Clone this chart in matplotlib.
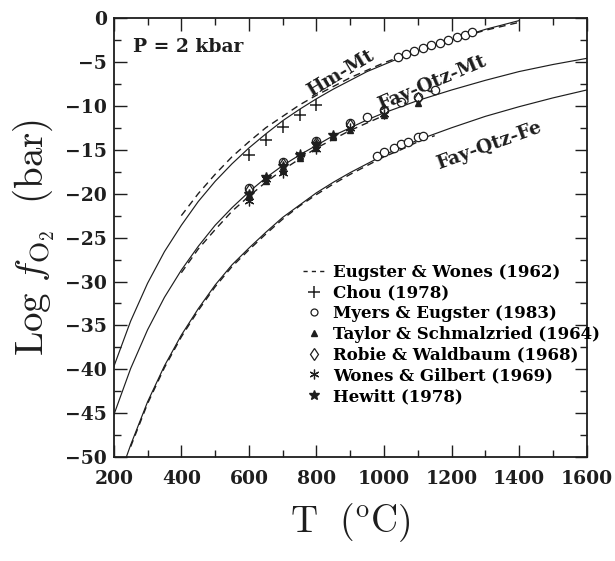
import matplotlib
matplotlib.use("Agg")
import matplotlib.pyplot as plt
from matplotlib.lines import Line2D
from matplotlib.ticker import MultipleLocator

# ---- calculated buffer curves, P = 2 kbar ----
hm_T = [200, 250, 300, 350, 400, 450, 500, 550, 600, 650, 700, 750, 800, 850,
        900, 950, 1000, 1050, 1100, 1150, 1200, 1250, 1300, 1350, 1400]
hm_logf = [-39.7, -34.5, -30.2, -26.6, -23.6, -20.9, -18.6, -16.6, -14.8, -13.2,
           -11.7, -10.4, -9.2, -8.1, -7.1, -6.1, -5.3, -4.5, -3.8, -3.1,
           -2.5, -1.9, -1.3, -0.8, -0.3]

fmq_T = [200, 250, 300, 350, 400, 450, 500, 550, 600, 650, 700, 750, 800, 850,
         900, 950, 1000, 1100, 1200, 1300, 1400, 1500, 1600]
fmq_logf = [-45.2, -39.9, -35.5, -31.8, -28.7, -26.0, -23.6, -21.6, -19.8, -18.2,
            -16.8, -15.6, -14.5, -13.4, -12.5, -11.6, -10.8, -9.4, -8.2, -7.1,
            -6.1, -5.3, -4.6]

qif_T = [237, 250, 300, 350, 400, 450, 500, 550, 600, 650, 700, 750, 800, 850,
         900, 950, 1000, 1100, 1200, 1300, 1400, 1500, 1600]
qif_logf = [-50.0, -48.6, -43.7, -39.6, -36.1, -33.1, -30.4, -28.1, -26.2, -24.4,
            -22.7, -21.3, -19.9, -18.7, -17.6, -16.6, -15.6, -13.9, -12.5, -11.2,
            -10.1, -9.1, -8.2]

# ---- Eugster & Wones (1962) curves (dashed) ----
ew_hm_T = [400, 450, 500, 550, 600, 650, 700, 750, 800, 900, 1000, 1100, 1200, 1300, 1400]
ew_hm_logf = [-22.5, -20.0, -17.8, -15.8, -14.1, -12.5, -11.2, -9.9, -8.8, -6.8,
              -5.1, -3.7, -2.5, -1.4, -0.5]
ew_fmq_T = [400, 450, 500, 550, 600, 650, 700, 800, 900, 1000]
ew_fmq_logf = [-29.0, -26.3, -24.1, -22.0, -20.3, -18.7, -17.3, -14.8, -12.8, -11.1]
ew_qif_T = [250, 300, 350, 400, 450, 500, 550, 600, 650, 700, 750, 800, 850, 900,
            950, 1000, 1050, 1100, 1150]
ew_qif_logf = [-48.8, -43.9, -39.8, -36.3, -33.3, -30.6, -28.3, -26.4, -24.6, -22.9,
               -21.4, -20.1, -18.9, -17.8, -16.8, -15.8, -15.0, -14.1, -13.4]

# ---- experimental data ----
chou_T = [600, 650, 700, 750, 800]
chou_logf = [-15.6, -13.9, -12.4, -11.0, -9.9]

myers_T = [1040, 1065, 1090, 1115, 1140, 1165, 1190, 1215, 1240, 1260,
           600, 700, 800, 900, 950, 1000, 1050, 1100, 1150,
           980, 1000, 1030, 1050, 1070, 1100, 1115]
myers_logf = [-4.5, -4.1, -3.8, -3.4, -3.1, -2.8, -2.5, -2.2, -1.9, -1.6,
              -19.3, -16.4, -14.0, -12.0, -11.3, -10.5, -9.6, -9.0, -8.2,
              -15.7, -15.3, -14.8, -14.4, -14.1, -13.6, -13.4]

taylor_T = [600, 650, 700, 750, 800, 850, 900, 1000, 1100]
taylor_logf = [-20.3, -18.6, -17.3, -15.9, -14.8, -13.6, -12.8, -11.1, -9.7]

robie_T = [600, 700, 800, 900, 1000, 1100]
robie_logf = [-19.6, -16.6, -14.2, -12.2, -10.5, -9.1]

wones_T = [600, 650, 700, 750, 800, 900, 1000]
wones_logf = [-20.8, -18.3, -17.6, -15.5, -14.9, -12.5, -10.9]

hewitt_T = [600, 650, 700, 750, 800, 850]
hewitt_logf = [-20.0, -18.1, -16.9, -15.6, -14.4, -13.3]

ink = "#1e1e1e"
serif = "DejaVu Serif"

plt.rcParams["font.family"] = serif
plt.rcParams["font.weight"] = "bold"
plt.rcParams["mathtext.fontset"] = "cm"

fig = plt.figure(figsize=(6.15, 5.61), dpi=100)
ax = fig.add_axes([0.185, 0.185, 0.769, 0.783])

dash = (0, (5, 3.5))
for T, f in [(hm_T, hm_logf), (fmq_T, fmq_logf), (qif_T, qif_logf)]:
    ax.plot(T, f, color=ink, lw=0.85)
for T, f in [(ew_hm_T, ew_hm_logf), (ew_fmq_T, ew_fmq_logf), (ew_qif_T, ew_qif_logf)]:
    ax.plot(T, f, color=ink, lw=1.0, linestyle=dash)

ax.plot(chou_T, chou_logf, "+", color=ink, ms=8, mew=1.1, ls="none")
ax.plot(myers_T, myers_logf, "o", mfc="white", mec=ink, ms=6, mew=0.9, ls="none")
ax.plot(taylor_T, taylor_logf, "^", color=ink, ms=4.5, ls="none")
ax.plot(robie_T, robie_logf, "d", mfc="none", mec=ink, ms=6, mew=0.9, ls="none")
ax.plot(wones_T, wones_logf, marker=(6, 2, 0), color=ink, ms=7, mew=0.9, ls="none")
ax.plot(hewitt_T, hewitt_logf, "*", color=ink, ms=7, ls="none")

ax.set_xlim(200, 1600)
ax.set_ylim(-50, 0)
ax.xaxis.set_major_locator(MultipleLocator(200))
ax.xaxis.set_minor_locator(MultipleLocator(100))
ax.yaxis.set_major_locator(MultipleLocator(5))
ax.yaxis.set_minor_locator(MultipleLocator(2.5))
ax.tick_params(which="both", direction="in", top=True, right=True, width=1.0,
               colors=ink, labelsize=13.5)
ax.tick_params(axis="x", pad=9)
ax.tick_params(axis="y", pad=5)
ax.tick_params(which="major", length=9)
ax.tick_params(which="minor", length=5)
for s in ax.spines.values():
    s.set_linewidth(1.3)
    s.set_color(ink)

ax.set_xlabel(r"$\mathrm{T\ \ (^{o}C)}$", fontsize=27, color=ink, labelpad=10)
ax.set_ylabel(r"$\mathrm{Log}\ f_{\mathrm{O_2}}\ \ \mathrm{(bar)}$", fontsize=28,
              color=ink, labelpad=6)

lab = dict(family=serif, fontsize=13.5, fontweight="bold", color=ink)
ax.text(0.04, 0.935, "P = 2 kbar", transform=ax.transAxes, va="center", **lab)
ax.text(872, -6.3, "Hm-Mt", rotation=31, ha="center", va="center",
        rotation_mode="anchor", **lab)
ax.text(1141, -7.4, "Fay-Qtz-Mt", rotation=23, ha="center", va="center",
        rotation_mode="anchor", **lab)
ax.text(1310, -14.5, "Fay-Qtz-Fe", rotation=20, ha="center", va="center",
        rotation_mode="anchor", **lab)

handles = [
    Line2D([], [], color=ink, lw=1.0, linestyle=(0, (3, 3))),
    Line2D([], [], marker="+", color=ink, ms=8, mew=1.1, ls="none"),
    Line2D([], [], marker="o", mfc="white", mec=ink, ms=5, mew=0.9, ls="none"),
    Line2D([], [], marker="^", color=ink, ms=4.5, ls="none"),
    Line2D([], [], marker="d", mfc="none", mec=ink, ms=6, mew=0.9, ls="none"),
    Line2D([], [], marker=(6, 2, 0), color=ink, ms=7, mew=0.9, ls="none"),
    Line2D([], [], marker="*", color=ink, ms=7, ls="none"),
]
labels = ["Eugster & Wones (1962)", "Chou (1978)", "Myers & Eugster (1983)",
          "Taylor & Schmalzried (1964)", "Robie & Waldbaum (1968)",
          "Wones & Gilbert (1969)", "Hewitt (1978)"]
ax.legend(handles, labels, loc="upper left", bbox_to_anchor=(0.40, 0.44),
          frameon=False, borderpad=0, borderaxespad=0, handlelength=1.3,
          handletextpad=0.5, labelspacing=0.22,
          prop={"family": serif, "weight": "bold", "size": 12})

fig.savefig("out.png", dpi=100)
